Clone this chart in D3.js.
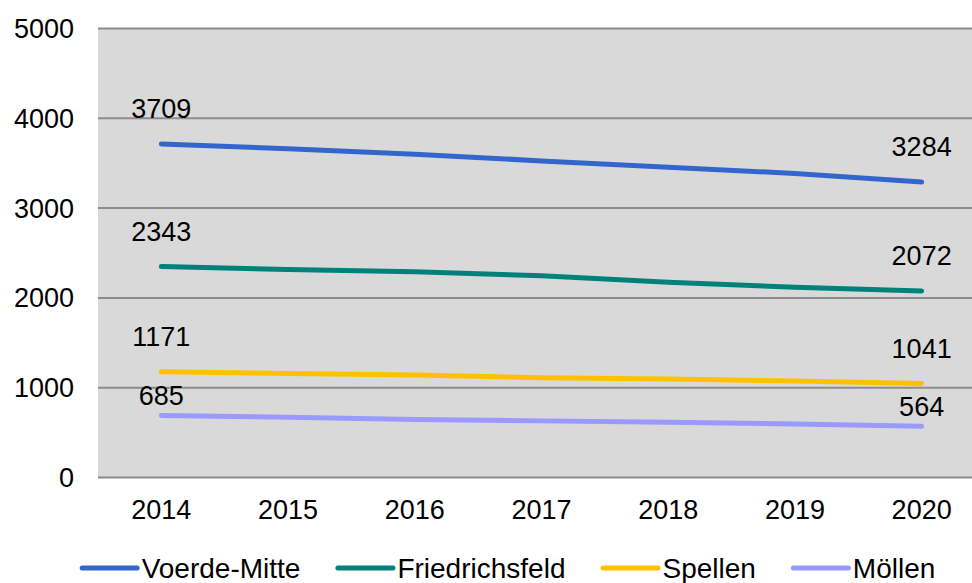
<!DOCTYPE html>
<html>
  <head>
    <meta charset="utf-8">
    <title>Einwohner nach Ortsteil</title>
    <script type="text/javascript" src="https://d3js.org/d3.v7.min.js"></script>
    <style type="text/css">
      body { margin: 0; background: #fff; }
      text { font-family: "Liberation Sans", Arial, sans-serif; font-size: 27px; fill: #000; }
      .legend text { font-size: 28px; }
    </style>
  </head>
  <body>
    <script type="text/javascript">
    // data
    var years = ["2014", "2015", "2016", "2017", "2018", "2019", "2020"];
    var seriesNames = ["Voerde-Mitte", "Friedrichsfeld", "Spellen", "Möllen"];
    var voerdeMitte = [3709, 3655, 3595, 3520, 3450, 3380, 3284];
    var friedrichsfeld = [2343, 2310, 2285, 2240, 2170, 2112, 2072];
    var spellen = [1171, 1152, 1135, 1105, 1090, 1068, 1041];
    var moellen = [685, 665, 640, 625, 610, 590, 564];
    var yTicks = [0, 1000, 2000, 3000, 4000, 5000];

    var allValues = [voerdeMitte, friedrichsfeld, spellen, moellen];
    var colors = ["#3366cc", "#00827b", "#ffc000", "#9999ff"];
    // how far the first/last value label sits above its point
    var labelLift = [26, 26, 26, 10];

    var widthSVG = 972;
    var heightSVG = 583;
    var plotLeft = 98, plotRight = 985, plotTop = 28, plotBottom = 477;

    var svg = d3.select("body")
                .append("svg")
                .attr("width", widthSVG)
                .attr("height", heightSVG);

    var xScale = d3.scaleBand()
                   .domain(years)
                   .range([plotLeft, plotRight]);

    var yScale = d3.scaleLinear()
                   .domain([0, 5000])
                   .range([plotBottom, plotTop]);

    // plot background
    svg.append("rect")
       .attr("x", plotLeft)
       .attr("y", plotTop)
       .attr("width", plotRight - plotLeft)
       .attr("height", plotBottom - plotTop)
       .attr("fill", "#d9d9d9");

    // y axis with gridlines
    var yAxis = d3.axisLeft(yScale)
                  .tickValues(yTicks)
                  .tickSize(-(plotRight - plotLeft))
                  .tickPadding(24)
                  .tickFormat(d3.format("d"));

    var gy = svg.append("g")
                .attr("transform", "translate(" + plotLeft + ",0)")
                .call(yAxis);
    gy.select(".domain").remove();
    gy.selectAll("line").attr("stroke", "#8c8c8c").attr("stroke-width", 2);
    gy.selectAll("text").attr("dy", "0.35em");

    // x axis labels only
    var xAxis = d3.axisBottom(xScale).tickSize(0).tickPadding(23);
    var gx = svg.append("g")
                .attr("transform", "translate(0," + plotBottom + ")")
                .call(xAxis);
    gx.select(".domain").remove();

    var line = d3.line()
                 .x(function(d, i) { return xScale(years[i]) + xScale.bandwidth() / 2; })
                 .y(function(d) { return yScale(d); });

    allValues.forEach(function(vals, s) {
      svg.append("path")
         .datum(vals)
         .attr("d", line)
         .attr("fill", "none")
         .attr("stroke", colors[s])
         .attr("stroke-width", 5)
         .attr("stroke-linecap", "round")
         .attr("stroke-linejoin", "round");

      // labels on first and last point
      [0, vals.length - 1].forEach(function(i) {
        svg.append("text")
           .attr("x", xScale(years[i]) + xScale.bandwidth() / 2)
           .attr("y", yScale(vals[i]) - labelLift[s])
           .attr("text-anchor", "middle")
           .text(vals[i]);
      });
    });

    // legend
    var legend = svg.append("g").attr("class", "legend");
    var swatch = 60, gapText = 2, gapItem = 35, legendY = 568;
    var items = legend.selectAll("g")
                      .data(seriesNames)
                      .enter()
                      .append("g");
    items.append("line")
         .attr("x1", 2.5).attr("x2", swatch - 2.5)
         .attr("y1", 0).attr("y2", 0)
         .attr("stroke", function(d, i) { return colors[i]; })
         .attr("stroke-width", 5)
         .attr("stroke-linecap", "round");
    items.append("text")
         .attr("x", swatch + gapText)
         .attr("dy", "0.35em")
         .text(function(d) { return d; });

    var widths = [];
    items.select("text").each(function() { widths.push(swatch + gapText + this.getComputedTextLength()); });
    var total = d3.sum(widths) + gapItem * (widths.length - 1);
    var xPos = 507.5 - total / 2;
    items.attr("transform", function(d, i) {
      var t = "translate(" + xPos + "," + legendY + ")";
      xPos += widths[i] + gapItem;
      return t;
    });
    </script>
  </body>
</html>
